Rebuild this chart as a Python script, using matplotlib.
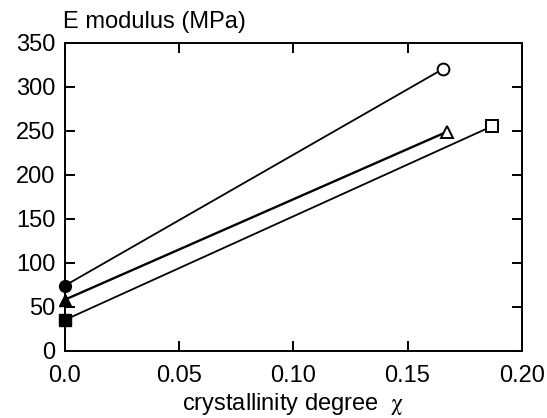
import matplotlib
matplotlib.use("Agg")
import matplotlib.pyplot as plt
import matplotlib.transforms as mtransforms
from matplotlib.ticker import FixedLocator

plt.rcParams['font.family'] = ['Liberation Sans', 'DejaVu Sans']
plt.rcParams['mathtext.fontset'] = 'stix'

# data: (crystallinity, E modulus)
circle_x = [0.0, 0.1655]
circle_y = [74, 320]
triangle_x = [0.0, 0.1675]
triangle_y = [58, 249]
square_x = [0.0, 0.187]
square_y = [35, 255]

x_ticks = [0.0, 0.05, 0.10, 0.15, 0.20]
x_ticklabels = ['0.0', '0.05', '0.10', '0.15', '0.20']
y_ticks = [0, 50, 100, 150, 200, 250, 300, 350]

fig = plt.figure(figsize=(5.47, 4.18), dpi=100)
ax = fig.add_axes([0.1188, 0.161, 0.9537 - 0.1188, 0.898 - 0.161])

series = [
    (circle_x, circle_y, 'o', 1.3),
    (triangle_x, triangle_y, '^', 1.7),
    (square_x, square_y, 's', 1.3),
]
for xs, ys, m, w in series:
    ax.plot(xs, ys, color='black', lw=w, zorder=2)
    ms = 8.5 if m != 's' else 8
    ax.plot(xs[0], ys[0], marker=m, ms=ms, color='black',
            mec='black', mfc='black', ls='none', clip_on=False, zorder=3)
    ax.plot(xs[-1], ys[-1], marker=m, ms=ms, color='black',
            mec='black', mfc='white', mew=1.4, ls='none', clip_on=False, zorder=3)

ax.set_xlim(0, 0.20)
ax.set_ylim(0, 350)
ax.xaxis.set_major_locator(FixedLocator(x_ticks))
ax.set_xticklabels(x_ticklabels)
ax.yaxis.set_major_locator(FixedLocator(y_ticks))

for s in ax.spines.values():
    s.set_linewidth(1.4)

fs = 17
ax.tick_params(axis='both', which='major', direction='in', length=7, width=1.4,
               top=True, right=True, labelsize=fs, color='black')
ax.tick_params(axis='x', pad=10)
ax.tick_params(axis='y', pad=7)

ax.set_xlabel('crystallinity degree  $\\mathrm{\\chi}$', fontsize=fs, labelpad=3)
ax.text(0.0, 1.0, 'E modulus (MPa)', fontsize=fs, ha='left', va='baseline',
        transform=ax.transAxes + mtransforms.ScaledTranslation(-2/100, 15/100, fig.dpi_scale_trans))

fig.savefig('out.png', dpi=100)
